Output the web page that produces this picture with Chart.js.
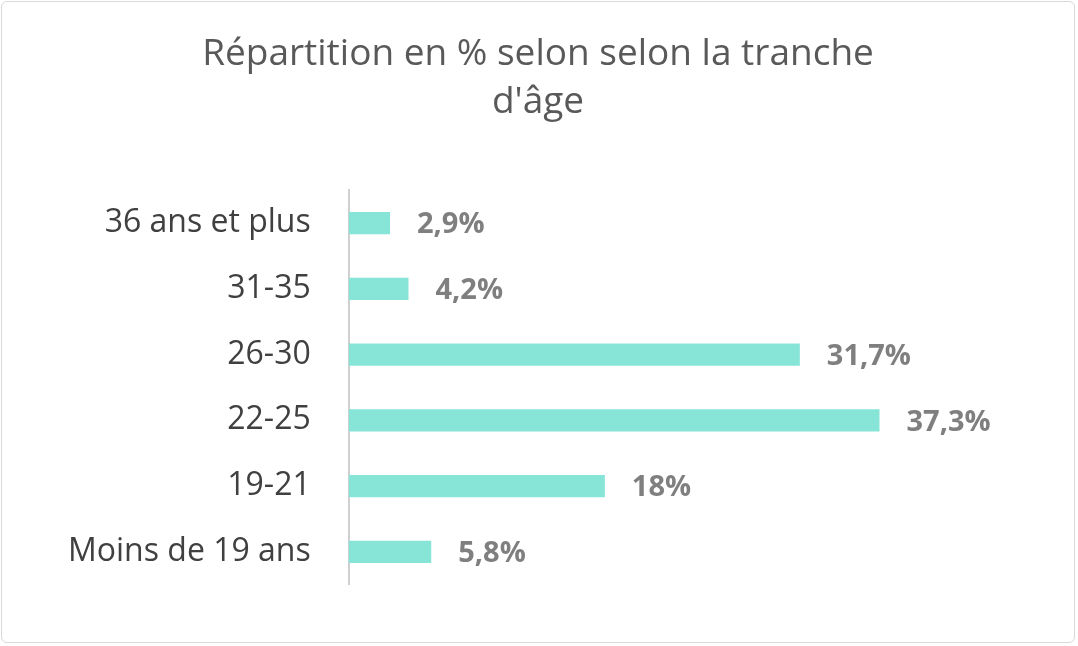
<!DOCTYPE html>
<html><head><meta charset="utf-8">
<script src="https://cdn.jsdelivr.net/npm/chart.js@4"></script>
<style>
html,body{margin:0;padding:0;background:#fff;}
#wrap{position:absolute;left:1px;top:1px;width:1074px;height:642px;border:1px solid #d9d9d9;border-radius:6px;box-sizing:border-box;}
canvas{display:block;}
</style></head><body>
<div id="wrap"><canvas id="c"></canvas></div>
<script>
const categories = ["36 ans et plus","31-35","26-30","22-25","19-21","Moins de 19 ans"];
const values = [2.9, 4.2, 31.7, 37.3, 18, 5.8];
const valueLabels = ["2,9%","4,2%","31,7%","37,3%","18%","5,8%"];
const titleLines = ["Répartition en % selon selon la tranche","d'âge"];

const labelPlugin = {
  id:'valLabels',
  afterDatasetsDraw(chart){
    const ctx = chart.ctx;
    const meta = chart.getDatasetMeta(0);
    ctx.save();
    ctx.font = 'bold 29px "Open Sans"';
    ctx.fillStyle = '#7f7f7f';
    ctx.textBaseline = 'middle';
    meta.data.forEach((bar,i)=>{
      ctx.fillText(valueLabels[i], bar.x + 27, bar.y + 2);
    });
    ctx.restore();
  }
};

new Chart(document.getElementById('c'), {
  type:'bar',
  data:{labels:categories, datasets:[{data:values, backgroundColor:'#86e5d7', barPercentage:0.34, categoryPercentage:1}]},
  options:{
    indexAxis:'y', responsive:true, maintainAspectRatio:false, animation:false,
    layout:{padding:{top:28,right:28,bottom:46,left:28}},
    plugins:{
      legend:{display:false}, tooltip:{enabled:false},
      title:{display:true, text:titleLines, color:'#595959', font:{family:'Open Sans', size:37, weight:'normal', lineHeight:1.3}, padding:{top:0,bottom:64}}
    },
    scales:{
      x:{display:false, min:0, max:49},
      y:{grid:{display:false, drawTicks:false}, border:{display:true,color:'#d0d0d0',width:2},
         ticks:{color:'#404040', font:{family:'Open Sans', size:32}, padding:38}}
    }
  },
  plugins:[labelPlugin]
});
</script></body></html>
